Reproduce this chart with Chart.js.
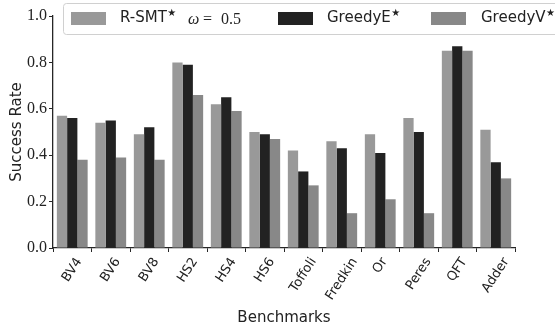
<!DOCTYPE html>
<html>
<head>
<meta charset="utf-8">
<script src="https://cdn.jsdelivr.net/npm/chart.js@4/dist/chart.umd.min.js"></script>
<style>
  html, body { margin: 0; padding: 0; background: #fff; }
  #wrap { width: 555px; height: 330px; position: relative; }
</style>
</head>
<body>
<div id="wrap"><canvas id="c" width="555" height="330"></canvas></div>
<script>
// Benchmarks and measured success rates per routing method
const categories = ['BV4', 'BV6', 'BV8', 'HS2', 'HS4', 'HS6', 'Toffoli', 'Fredkin', 'Or', 'Peres', 'QFT', 'Adder'];
const rsmtValues    = [0.57, 0.54, 0.49, 0.80, 0.62, 0.50, 0.42, 0.46, 0.49, 0.56, 0.85, 0.51];
const greedyEValues = [0.56, 0.55, 0.52, 0.79, 0.65, 0.49, 0.33, 0.43, 0.41, 0.50, 0.87, 0.37];
const greedyVValues = [0.38, 0.39, 0.38, 0.66, 0.59, 0.47, 0.27, 0.15, 0.21, 0.15, 0.85, 0.30];
const yTicks = [0.0, 0.2, 0.4, 0.6, 0.8, 1.0];

const SANS = '"DejaVu Sans", sans-serif';
const SERIF = '"Liberation Serif", "DejaVu Serif", serif';
const AXIS_COLOR = '#262626';

// Rotated category labels, centred under each tick (rotation about the label centre)
const tickLabelPlugin = {
  id: 'centredTickLabels',
  afterDraw(chart) {
    const ctx = chart.ctx;
    const xs = chart.scales.x;
    const ang = 57 * Math.PI / 180;
    const fs = 13;
    ctx.save();
    ctx.font = fs + 'px ' + SANS;
    ctx.fillStyle = '#222';
    ctx.textAlign = 'center';
    ctx.textBaseline = 'middle';
    categories.forEach((lab, i) => {
      const w = ctx.measureText(lab).width;
      const h = fs * 0.9;
      const H = w * Math.sin(ang) + h * Math.cos(ang);
      const cx = xs.getPixelForValue(i);
      const cy = xs.top + 8 + H / 2;
      ctx.save();
      ctx.translate(cx, cy);
      ctx.rotate(-ang);
      ctx.fillText(lab, 0, 0);
      ctx.restore();
    });
    ctx.restore();
  }
};

// Legend box along the top, drawn over the plot
const legendPlugin = {
  id: 'topLegend',
  afterDraw(chart) {
    const ctx = chart.ctx;
    const ds = chart.data.datasets;
    ctx.save();
    // frame
    const bx = 63.5, by = 3.5, bw = 520, bh = 31, r = 3;
    ctx.beginPath();
    ctx.moveTo(bx + r, by);
    ctx.lineTo(bx + bw - r, by);
    ctx.arcTo(bx + bw, by, bx + bw, by + r, r);
    ctx.lineTo(bx + bw, by + bh - r);
    ctx.arcTo(bx + bw, by + bh, bx + bw - r, by + bh, r);
    ctx.lineTo(bx + r, by + bh);
    ctx.arcTo(bx, by + bh, bx, by + bh - r, r);
    ctx.lineTo(bx, by + r);
    ctx.arcTo(bx, by, bx + r, by, r);
    ctx.closePath();
    ctx.fillStyle = 'rgba(255,255,255,0.85)';
    ctx.fill();
    ctx.strokeStyle = '#d0d0d0';
    ctx.lineWidth = 1;
    ctx.stroke();

    const patchX = [71, 278, 431];
    const textX = [120, 327, 481];
    const midY = 18.5;
    ctx.textBaseline = 'middle';
    ds.forEach((d, i) => {
      ctx.fillStyle = d.backgroundColor;
      ctx.fillRect(patchX[i], 12, 35, 13);
      let x = textX[i];
      ctx.fillStyle = '#222';
      ctx.font = '15px ' + SANS;
      ctx.textAlign = 'left';
      ctx.fillText(d.label, x, midY);
      x += ctx.measureText(d.label).width + 0.5;
      ctx.font = '10px "DejaVu Sans", sans-serif';
      ctx.fillText('\u2605', x, midY - 5);
      if (i === 0) {
        ctx.font = 'italic 16px ' + SERIF;
        ctx.fillText('\u03c9', 188, midY + 1);
        ctx.font = '16px ' + SERIF;
        ctx.fillText('=', 203, midY + 1);
        ctx.fillText('0.5', 221, midY + 1);
      }
    });
    ctx.restore();
  }
};

new Chart(document.getElementById('c'), {
  type: 'bar',
  data: {
    labels: categories,
    datasets: [
      { label: 'R-SMT', data: rsmtValues, backgroundColor: '#999999' },
      { label: 'GreedyE', data: greedyEValues, backgroundColor: '#222222' },
      { label: 'GreedyV', data: greedyVValues, backgroundColor: '#888888' }
    ]
  },
  options: {
    responsive: false,
    animation: false,
    devicePixelRatio: 1,
    layout: { padding: { top: 16, right: 40, left: 0, bottom: 0 } },
    datasets: { bar: { categoryPercentage: 0.8, barPercentage: 1.0, borderWidth: 0 } },
    plugins: { legend: { display: false }, tooltip: { enabled: false } },
    scales: {
      x: {
        offset: true,
        afterFit(s) { s.height = 82; },
        grid: { display: true, drawOnChartArea: false, drawTicks: true, tickLength: 4, color: AXIS_COLOR, lineWidth: 1 },
        border: { display: true, color: AXIS_COLOR, width: 1.3 },
        ticks: { display: false },
        title: { display: true, text: 'Benchmarks', color: '#222', font: { family: SANS, size: 15 }, padding: { top: 0, bottom: 3 } }
      },
      y: {
        min: 0, max: 1,
        afterFit(s) { s.width = 53; },
        afterBuildTicks(s) { s.ticks = yTicks.map(v => ({ value: v })); },
        grid: { display: true, drawOnChartArea: false, drawTicks: true, tickLength: 4, color: AXIS_COLOR, lineWidth: 1 },
        border: { display: true, color: AXIS_COLOR, width: 1.3 },
        ticks: { color: '#222', padding: 2, font: { family: SERIF, size: 16 }, callback: v => Number(v).toFixed(1) },
        title: { display: true, text: 'Success Rate', color: '#222', font: { family: SANS, size: 15 }, padding: { top: 8, bottom: 0 } }
      }
    }
  },
  plugins: [tickLabelPlugin, legendPlugin]
});
</script>
</body>
</html>
